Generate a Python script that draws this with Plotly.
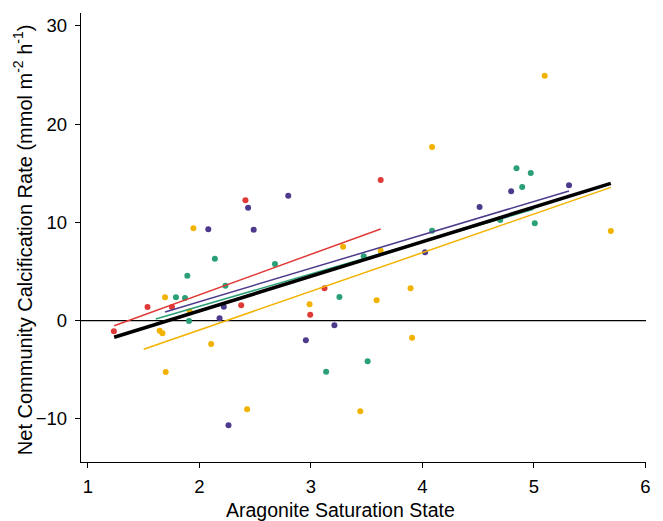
import plotly.graph_objects as go

# ---- data ----
groups = ["Red", "Purple", "Green", "Yellow"]
colors = {"Red": "#e03a36", "Purple": "#4d3a8c", "Green": "#2ba077", "Yellow": "#f2b300"}

red_x = [1.232, 1.534, 1.753, 2.374, 2.412, 2.993, 3.121, 3.625]
red_y = [-1.09, 1.38, 1.38, 1.56, 12.25, 0.60, 3.29, 14.32]

purple_x = [2.079, 2.436, 2.486, 2.796, 2.218, 2.180, 2.260, 2.954, 3.210, 4.023, 4.512, 4.795, 5.314]
purple_y = [9.30, 11.50, 9.26, 12.72, 1.42, 0.23, -10.66, -2.01, -0.48, 6.96, 11.57, 13.17, 13.78]

green_x = [1.891, 1.789, 1.870, 1.906, 2.138, 2.233, 2.677, 3.255, 3.136, 3.473, 3.508, 4.086, 4.697,
           4.843, 4.894, 4.971, 5.007]
green_y = [4.57, 2.37, 2.30, -0.04, 6.30, 3.55, 5.76, 2.40, -5.20, 6.55, -4.14, 9.15, 10.24,
           15.51, 13.60, 15.03, 9.91]

yellow_x = [1.945, 1.691, 1.912, 1.643, 1.668, 1.697, 2.105, 2.427, 2.987, 3.288, 3.442, 3.589,
            3.625, 3.893, 3.907, 4.086, 5.096, 5.689]
yellow_y = [9.40, 2.37, 0.95, -1.03, -1.29, -5.23, -2.38, -9.03, 1.66, 7.53, -9.24, 2.07,
            7.12, 3.29, -1.74, 17.68, 24.94, 9.12]

# regression lines per group: slope, intercept, x start, x end
fit_slope = {"Red": 4.121, "Purple": 3.400, "Green": 3.298, "Yellow": 3.937}
fit_intercept = {"Red": -5.61, "Purple": -4.869, "Green": -5.143, "Yellow": -8.83}
fit_xstart = {"Red": 1.235, "Purple": 1.691, "Green": 1.608, "Yellow": 1.500}
fit_xend = {"Red": 3.625, "Purple": 5.314, "Green": 4.995, "Yellow": 5.689}

# overall fit
all_slope = 3.520
all_intercept = -6.047
all_xstart = 1.235
all_xend = 5.689

x_ticks = [1, 2, 3, 4, 5, 6]
y_ticks = [-10, 0, 10, 20, 30]

series_x = {"Red": red_x, "Purple": purple_x, "Green": green_x, "Yellow": yellow_x}
series_y = {"Red": red_y, "Purple": purple_y, "Green": green_y, "Yellow": yellow_y}

FONT = "Liberation Sans, Arial, Helvetica, sans-serif"

fig = go.Figure()

for g in groups:
    fig.add_trace(go.Scatter(
        x=series_x[g], y=series_y[g], mode="markers",
        marker=dict(color=colors[g], size=6, line=dict(width=0)),
        showlegend=False, hoverinfo="skip"))

for g in ["Green", "Purple", "Red", "Yellow"]:
    xs = [fit_xstart[g], fit_xend[g]]
    ys = [fit_intercept[g] + fit_slope[g] * v for v in xs]
    fig.add_trace(go.Scatter(x=xs, y=ys, mode="lines",
                             line=dict(color=colors[g], width=1.5),
                             showlegend=False, hoverinfo="skip"))

xs = [all_xstart, all_xend]
ys = [all_intercept + all_slope * v for v in xs]
fig.add_trace(go.Scatter(x=xs, y=ys, mode="lines",
                         line=dict(color="black", width=3.5),
                         showlegend=False, hoverinfo="skip"))

fig.add_shape(type="line", xref="paper", yref="y", x0=0, x1=1, y0=0, y1=0,
              line=dict(color="black", width=1.2), layer="below")

axis_common = dict(showline=True, linecolor="black", linewidth=1.4,
                   ticks="outside", ticklen=5, tickwidth=1.2, tickcolor="black",
                   showgrid=False, zeroline=False,
                   tickfont=dict(family=FONT, size=18.5, color="black"))

fig.update_layout(
    width=663, height=521,
    margin=dict(l=81, r=15, t=13, b=59),
    paper_bgcolor="white", plot_bgcolor="white",
    xaxis=dict(range=[0.9374, 6.0045], tickvals=x_ticks, ticklabelstandoff=3, **axis_common),
    yaxis=dict(range=[-14.40, 31.32], tickvals=y_ticks, ticklabelstandoff=4, **axis_common),
    annotations=[
        dict(text="Aragonite Saturation State", xref="paper", yref="paper",
             x=0.4585, y=-0.1069, xanchor="center", yanchor="middle", showarrow=False,
             font=dict(family=FONT, size=19.5, color="black")),
        dict(text="Net Community Calcification Rate (mmol m<sup>-2</sup> h<sup>-1</sup>)",
             xref="paper", yref="paper", x=-0.1042, y=0.4944, textangle=-90,
             xanchor="center", yanchor="middle", showarrow=False,
             font=dict(family=FONT, size=20, color="black")),
    ],
)

fig.write_html("out.html")
